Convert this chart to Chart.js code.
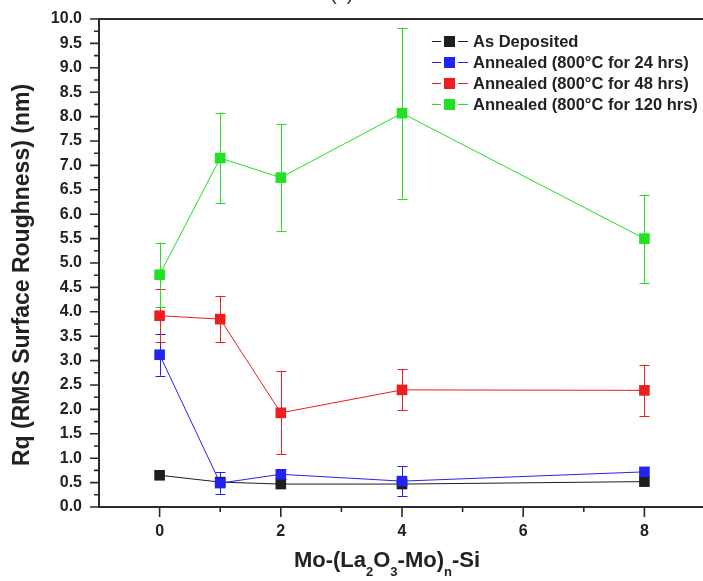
<!DOCTYPE html>
<html>
<head>
<meta charset="utf-8">
<script src="https://cdn.jsdelivr.net/npm/chart.js@4/dist/chart.umd.min.js"></script>
<style>
  html, body { margin: 0; padding: 0; background: #fff; overflow: hidden; }
  #wrap { position: relative; width: 703px; height: 581px; overflow: hidden; }
  #panel { position: absolute; left: 330px; top: -17px; font: 20px "Liberation Sans", Arial, sans-serif; line-height: 20px; color: #333; }
  canvas { position: absolute; left: 0; top: 0; }
</style>
</head>
<body>
<div id="wrap">
  <canvas id="c" width="705" height="581"></canvas>
  <div id="panel">(c)</div>
</div>
<script>
// Number of Mo-(La2O3-Mo) repeats
const layers = [0, 1, 2, 4, 8];

// RMS roughness Rq (nm) and standard deviation for each condition
const asDeposited   = [0.65, 0.51, 0.47, 0.47, 0.52];
const asDepositedSd = [null, null, null, null, null];
const annealed24    = [3.12, 0.49, 0.67, 0.53, 0.72];
const annealed24Sd  = [0.43, 0.22, 0.10, 0.31, 0.10];
const annealed48    = [3.92, 3.85, 1.93, 2.40, 2.39];
const annealed48Sd  = [0.54, 0.47, 0.85, 0.42, 0.53];
const annealed120   = [4.76, 7.15, 6.75, 8.07, 5.50];
const annealed120Sd = [0.66, 0.93, 1.09, 1.75, 0.90];

const seriesNames = ['As Deposited', 'Annealed (800°C for 24 hrs)', 'Annealed (800°C for 48 hrs)', 'Annealed (800°C for 120 hrs)'];
const seriesColors = ['#1e1e1e', '#2323f0', '#ec1e1e', '#22e022'];

const xTickValues = [0, 2, 4, 6, 8];
const xMinorValues = [1, 3, 5, 7];
const yMajorStep = 0.5;

const FONT = '"Liberation Sans", Arial, sans-serif';
const AXIS = '#2a2a2a';

function pts(ys) { return layers.map((x, i) => ({ x: x, y: ys[i] })); }

const allValues = [asDeposited, annealed24, annealed48, annealed120];
const allSd = [asDepositedSd, annealed24Sd, annealed48Sd, annealed120Sd];

const datasets = allValues.map((vals, k) => ({
  label: seriesNames[k],
  data: pts(vals),
  sd: allSd[k],
  borderColor: seriesColors[k],
  backgroundColor: seriesColors[k],
  borderWidth: 1,
  pointStyle: 'rect',
  pointRadius: 7.5,
  pointBorderWidth: 0,
  pointBackgroundColor: seriesColors[k],
  tension: 0,
  order: 4 - k
}));

// error bars, drawn under the markers
const errorBars = {
  id: 'errorBars',
  beforeDatasetsDraw(chart) {
    const { ctx, scales: { x, y } } = chart;
    ctx.save();
    ctx.lineWidth = 1;
    chart.data.datasets.forEach((ds) => {
      ctx.strokeStyle = ds.borderColor;
      ds.data.forEach((p, i) => {
        const e = ds.sd[i];
        if (e == null) return;
        const px = Math.round(x.getPixelForValue(p.x)) + 0.5;
        const top = y.getPixelForValue(p.y + e);
        const bot = y.getPixelForValue(p.y - e);
        ctx.beginPath();
        ctx.moveTo(px, top); ctx.lineTo(px, bot);
        ctx.moveTo(px - 5, Math.round(top) + 0.5); ctx.lineTo(px + 5, Math.round(top) + 0.5);
        ctx.moveTo(px - 5, Math.round(bot) + 0.5); ctx.lineTo(px + 5, Math.round(bot) + 0.5);
        ctx.stroke();
      });
    });
    ctx.restore();
  }
};

// outward ticks, top frame line, axis titles and legend
const decor = {
  id: 'decor',
  afterDraw(chart) {
    const { ctx, chartArea: a, scales: { x, y } } = chart;
    ctx.save();
    ctx.strokeStyle = AXIS;
    ctx.lineWidth = 2;
    ctx.beginPath();
    ctx.moveTo(a.left - 1, a.top); ctx.lineTo(a.right + 2, a.top);
    ctx.stroke();

    // y ticks
    ctx.lineWidth = 1.6;
    ctx.beginPath();
    for (let v = 0; v <= 10.0001; v += yMajorStep / 2) {
      const py = y.getPixelForValue(v);
      const major = Math.abs(v / yMajorStep - Math.round(v / yMajorStep)) < 1e-6;
      ctx.moveTo(a.left, py); ctx.lineTo(a.left - (major ? 9 : 5), py);
    }
    // x ticks
    xTickValues.forEach(v => { const px = x.getPixelForValue(v); ctx.moveTo(px, a.bottom); ctx.lineTo(px, a.bottom + 10); });
    xMinorValues.forEach(v => { const px = x.getPixelForValue(v); ctx.moveTo(px, a.bottom); ctx.lineTo(px, a.bottom + 5); });
    ctx.stroke();

    // y title
    ctx.fillStyle = '#222';
    ctx.font = 'bold 23px ' + FONT;
    ctx.textAlign = 'center';
    ctx.textBaseline = 'middle';
    ctx.save();
    ctx.translate(23, 275);
    ctx.rotate(-Math.PI / 2);
    ctx.fillText('Rq (RMS Surface Roughness) (nm)', 0, 0);
    ctx.restore();

    // x title with subscripts
    const parts = [['Mo-(La', 0], ['2', 1], ['O', 0], ['3', 1], ['-Mo)', 0], ['n', 1], ['-Si', 0]];
    const big = 'bold 22px ' + FONT, small = 'bold 13px ' + FONT;
    let w = 0;
    parts.forEach(([t, s]) => { ctx.font = s ? small : big; w += ctx.measureText(t).width; });
    let cx = 387 - w / 2;
    const base = 567;
    ctx.textAlign = 'left';
    ctx.textBaseline = 'alphabetic';
    parts.forEach(([t, s]) => {
      ctx.font = s ? small : big;
      ctx.fillText(t, cx, s ? base + 9 : base);
      cx += ctx.measureText(t).width;
    });

    // legend
    const lx = 432, ly = 41, step = 21;
    ctx.font = 'bold 16.5px ' + FONT;
    ctx.textBaseline = 'middle';
    chart.data.datasets.forEach((ds, k) => {
      const yy = ly + k * step;
      ctx.strokeStyle = ds.borderColor;
      ctx.lineWidth = 1;
      ctx.beginPath();
      ctx.moveTo(lx, yy + 0.5); ctx.lineTo(lx + 9, yy + 0.5);
      ctx.moveTo(lx + 26, yy + 0.5); ctx.lineTo(lx + 36, yy + 0.5);
      ctx.stroke();
      ctx.fillStyle = ds.borderColor;
      ctx.fillRect(lx + 12, yy - 5, 11, 11);
      ctx.fillStyle = '#222';
      ctx.fillText(ds.label, lx + 41, yy + 1);
    });
    ctx.restore();
  }
};

new Chart(document.getElementById('c'), {
  type: 'line',
  data: { datasets: datasets },
  options: {
    responsive: false,
    animation: false,
    layout: { autoPadding: false, padding: { top: 19, right: 0, left: 0, bottom: 0 } },
    plugins: { legend: { display: false }, tooltip: { enabled: false } },
    scales: {
      x: {
        type: 'linear',
        min: -1, max: 9,
        afterBuildTicks: s => { s.ticks = xTickValues.map(v => ({ value: v })); },
        afterFit: s => { s.height = 74; s.paddingLeft = 0; s.paddingRight = 0; },
        grid: { display: false, drawTicks: false },
        border: { display: true, color: AXIS, width: 2 },
        ticks: { padding: 15, color: '#222', font: { family: FONT, size: 16, weight: 'bold' } }
      },
      y: {
        type: 'linear',
        min: 0, max: 10,
        afterBuildTicks: s => { const t = []; for (let v = 0; v <= 10.0001; v += yMajorStep) t.push({ value: +v.toFixed(2) }); s.ticks = t; },
        afterFit: s => { s.width = 99; s.paddingTop = 0; s.paddingBottom = 0; },
        grid: { display: false, drawTicks: false },
        border: { display: true, color: AXIS, width: 2 },
        ticks: { padding: 17, color: '#222', callback: v => Number(v).toFixed(1), font: { family: FONT, size: 16, weight: 'bold' } }
      }
    }
  },
  plugins: [errorBars, decor]
});
</script>
</body>
</html>
